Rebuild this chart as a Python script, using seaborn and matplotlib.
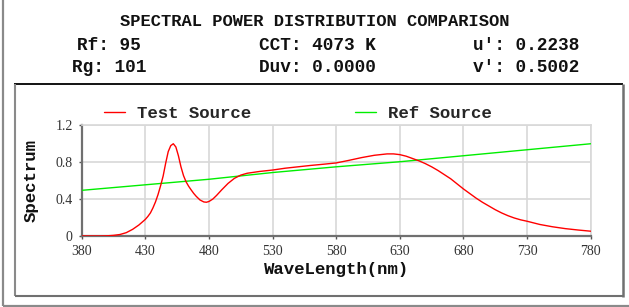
import pandas as pd
import matplotlib.pyplot as plt
from matplotlib.lines import Line2D
import seaborn as sns

# === data ===
test_wl = [380, 385, 390, 395, 400, 405, 410, 415, 420, 425, 430, 432, 434, 436,
           438, 440, 442, 444, 446, 448, 450, 452, 454, 456, 458, 460, 462, 464,
           466, 468, 470, 473, 476, 478, 480, 483, 486, 490, 495, 500, 505, 510,
           520, 530, 540, 550, 560, 570, 580, 590, 600, 610, 620, 625, 630, 635,
           640, 645, 650, 655, 660, 665, 670, 675, 680, 685, 690, 695, 700, 705,
           710, 715, 720, 725, 730, 740, 750, 760, 770, 780]
test_val = [0.0, 0.0, 0.0, 0.0, 0.002, 0.007, 0.016, 0.036, 0.072, 0.12, 0.18, 0.212,
            0.25, 0.305, 0.37, 0.45, 0.545, 0.65, 0.79, 0.915, 0.98, 1.0, 0.965, 0.87,
            0.75, 0.655, 0.588, 0.54, 0.5, 0.462, 0.43, 0.39, 0.369, 0.366, 0.374,
            0.4, 0.44, 0.50, 0.57, 0.625, 0.66, 0.68, 0.70, 0.715, 0.735, 0.75, 0.765,
            0.778, 0.792, 0.82, 0.85, 0.875, 0.89, 0.89, 0.882, 0.865, 0.84, 0.815,
            0.785, 0.75, 0.71, 0.665, 0.62, 0.565, 0.51, 0.46, 0.41, 0.365, 0.325,
            0.285, 0.25, 0.22, 0.195, 0.175, 0.16, 0.125, 0.10, 0.08, 0.065, 0.052]

ref_wl = [380, 430, 480, 530, 580, 630, 680, 730, 780]
ref_val = [0.495, 0.555, 0.615, 0.688, 0.75, 0.805, 0.87, 0.935, 1.0]

header_rows = [["Rf: 95", "CCT: 4073 K", "u': 0.2238"],
               ["Rg: 101", "Duv: 0.0000", "v': 0.5002"]]

x_ticks = [380, 430, 480, 530, 580, 630, 680, 730, 780]
y_ticks = [0, 0.4, 0.8, 1.2]
y_tick_labels = ["0", "0.4", "0.8", "1.2"]

# === style ===
sns.set_theme(style="white")
plt.rcParams['font.family'] = ['Liberation Serif', 'DejaVu Serif']
MONO = ['Liberation Mono', 'DejaVu Sans Mono']
W, H = 629, 307

fig = plt.figure(figsize=(W / 100, H / 100), dpi=100)
fig.patch.set_facecolor("white")

# header
fig.text(315 / W, 1 - 21 / H, "SPECTRAL POWER DISTRIBUTION COMPARISON",
         family=MONO, weight="bold", size=12.3, ha="center", va="center", color="#111")
for row, py in zip(header_rows, [46, 67]):
    for txt, px in zip(row, [109, 317, 526]):
        fig.text(px / W, 1 - py / H, txt, family=MONO, weight="bold", size=12.8,
                 ha="center", va="center", color="#111")

# frames
def fline(x0, y0, x1, y1, color, lw):
    fig.add_artist(Line2D([x0 / W, x1 / W], [1 - y0 / H, 1 - y1 / H],
                          transform=fig.transFigure, color=color, lw=lw,
                          solid_capstyle="butt"))

fline(3.5, 0, 3.5, 305.5, "#8a8a8a", 1.6)
fline(3, 305.5, 629, 305.5, "#8a8a8a", 1.6)
fline(14, 84, 623, 84, "#000000", 1.3)
fline(15, 84, 15, 296, "#8a8a8a", 1.5)
fline(15, 296, 623, 296, "#707070", 1.5)
fline(623, 84, 623, 296.5, "#707070", 1.8)

# === spectrum axes ===
ax = fig.add_axes([81.7 / W, 1 - 236 / H, 509 / W, 110.7 / H])
ax.set_facecolor("white")

df_test = pd.DataFrame({"wl": test_wl, "val": test_val})
df_ref = pd.DataFrame({"wl": ref_wl, "val": ref_val})
sns.lineplot(data=df_test, x="wl", y="val", color="#ff0000", lw=1.0, ax=ax,
             label="Test Source", zorder=4)
sns.lineplot(data=df_ref, x="wl", y="val", color="#00ee00", lw=1.0, ax=ax,
             label="Ref Source", zorder=3)

ax.set_xlim(380, 780)
ax.set_ylim(0, 1.2)
ax.set_xticks(x_ticks)
ax.set_yticks(y_ticks)
ax.set_yticklabels(y_tick_labels)
ax.grid(True, color="#d8d8d8", lw=1.2)
ax.set_axisbelow(True)
for side in ["top", "right"]:
    ax.spines[side].set_color("#d8d8d8")
    ax.spines[side].set_linewidth(1.2)
for side in ["left", "bottom"]:
    ax.spines[side].set_color("#707070")
    ax.spines[side].set_linewidth(1.6)
ax.tick_params(axis="both", which="major", direction="out", length=2.5, width=1,
               color="#555", labelsize=10, labelcolor="#333", pad=4,
               left=True, bottom=True)

ax.set_xlabel("WaveLength(nm)", family=MONO, weight="bold", size=12.5, color="#111")
ax.set_ylabel("Spectrum", family=MONO, weight="bold", size=12.5, color="#111")
ax.xaxis.set_label_coords(0.5, -0.235)
ax.yaxis.set_label_coords(-0.085, 0.5)

ax.legend(loc="center left", bbox_to_anchor=(0.044, 1.11), ncol=2, frameon=False,
          borderpad=0, borderaxespad=0, handlelength=1.2, handletextpad=0.7,
          columnspacing=6.0, prop={"family": MONO, "weight": "bold", "size": 12.5})

fig.savefig("out.png", dpi=100, facecolor="white")
